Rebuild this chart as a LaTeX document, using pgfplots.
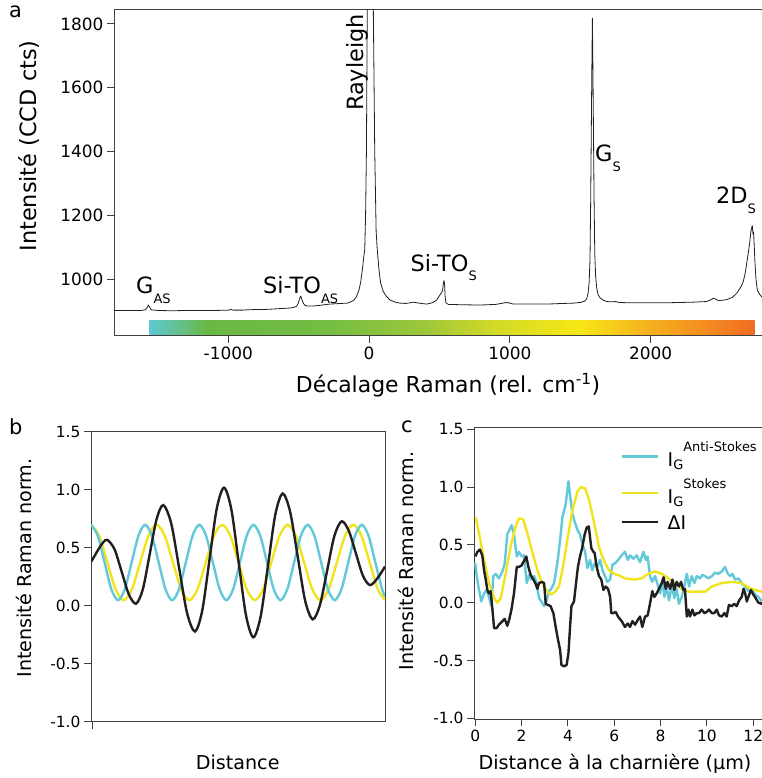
\documentclass[border=0pt]{standalone}
\usepackage{pgfplots}
\pgfplotsset{compat=1.18}
\usepackage{fontspec}
\setmainfont{DejaVu Sans}
\definecolor{cy}{HTML}{63C8D8}
\definecolor{ye}{HTML}{F0E41E}
\definecolor{bk}{HTML}{231F20}
\definecolor{ax}{HTML}{404040}
\definecolor{g1}{HTML}{5EC8D3}
\definecolor{g2}{HTML}{6AB945}
\definecolor{g3}{HTML}{74BD43}
\definecolor{g4}{HTML}{9EC73B}
\definecolor{g5}{HTML}{D2DB26}
\definecolor{g6}{HTML}{F8E716}
\definecolor{g7}{HTML}{F6B91E}
\definecolor{g8}{HTML}{F26C22}
\newcommand{\fs}[1]{\fontsize{#1}{#1}\selectfont}
\pgfplotsset{
  myax/.style={scale only axis, anchor=south west,
    axis line style={ax, line width=1bp},
    every tick/.style={ax, line width=1bp},
    tick align=outside, major tick length=7bp,
    xtick pos=lower, ytick pos=left, clip=true},
}
\begin{document}
\begin{tikzpicture}
% ---------------- panel a ----------------
\begin{axis}[myax, at={(114bp,442bp)}, width=649bp, height=326.7bp,
  xmin=-1812, xmax=2798, ymin=822, ymax=1846,
  xtick={-1000,0,1000,2000}, xticklabels={-1000,0,1000,2000},
  ytick={1000,1200,1400,1600,1800}, yticklabels={1000,1200,1400,1600,1800},
  tick label style={font=\fs{17}}]
\addplot[draw=none, left color=g1, right color=g2] coordinates {(-1561,826) (-1150,826) (-1150,869) (-1561,869)} -- cycle;
\addplot[draw=none, left color=g2, right color=g3] coordinates {(-1152,826) (-300,826) (-300,869) (-1152,869)} -- cycle;
\addplot[draw=none, left color=g3, right color=g4] coordinates {(-302,826) (400,826) (400,869) (-302,869)} -- cycle;
\addplot[draw=none, left color=g4, right color=g5] coordinates {(398,826) (900,826) (900,869) (398,869)} -- cycle;
\addplot[draw=none, left color=g5, right color=g6] coordinates {(898,826) (1500,826) (1500,869) (898,869)} -- cycle;
\addplot[draw=none, left color=g6, right color=g7] coordinates {(1498,826) (1900,826) (1900,869) (1498,869)} -- cycle;
\addplot[draw=none, left color=g7, right color=g8] coordinates {(1898,826) (2738,826) (2738,869) (1898,869)} -- cycle;
\addplot[bk, line width=0.8bp, line join=round] coordinates {
(-1812,902) (-1700,902) (-1620,902) (-1590,904) (-1578,910) (-1568,919) (-1558,911) (-1548,904) (-1500,902) (-1400,901) (-1300,902) (-1200,902) (-1100,902) (-1000,903) (-983,905) (-965,903) (-900,903) (-866,904) (-800,905) (-750,905) (-700,906) (-628,908) (-580,909) (-540,911) (-515,915) (-503,925) (-495,937) (-486,947) (-478,938) (-468,925) (-455,918) (-440,916) (-400,916) (-350,918) (-300,921) (-278,922) (-240,923) (-200,924) (-155,925) (-125,930) (-107,935) (-90,945) (-72,966) (-60,990) (-48,1029) (-38,1070) (-31,1092) (-25,1200) (-19,1400) (-13,1846) (-7,3500) (6,20000) (20,3500) (30,1846) (40,1400) (50,1150) (58,1092) (70,1030) (82,988) (100,962) (125,945) (148,935) (185,928) (220,925) (260,924) (290,926) (313,928) (340,926) (370,924) (409,922) (440,925) (465,930) (480,935) (495,945) (505,952) (515,958) (522,965) (527,985) (532,996) (536,985) (540,945) (546,926) (563,921) (650,920) (788,919) (900,921) (950,925) (977,927) (1000,925) (1023,922) (1150,922) (1261,922) (1380,924) (1449,925) (1500,927) (1530,931) (1545,938) (1555,955) (1563,990) (1569,1060) (1574,1250) (1578,1450) (1582,1650) (1586,1818) (1590,1650) (1594,1450) (1598,1250) (1603,1080) (1609,1010) (1616,975) (1626,952) (1640,942) (1660,935) (1687,930) (1720,929) (1746,930) (1780,927) (1853,926) (2000,926) (2100,926) (2206,927) (2300,928) (2397,930) (2425,935) (2445,940) (2465,937) (2480,933) (2510,934) (2540,936) (2580,943) (2611,956) (2640,975) (2658,993) (2672,1020) (2682,1050) (2693,1081) (2703,1113) (2712,1150) (2718,1162) (2722,1168) (2725,1150) (2728,1140) (2731,1148) (2735,1110) (2740,1060) (2748,1000) (2758,965) (2775,952) (2798,940)};
\end{axis}
% ---------------- panel b ----------------
\begin{axis}[myax, at={(91bp,56bp)}, width=294bp, height=290bp,
  xmin=0, xmax=100, ymin=-1, ymax=1.5,
  xtick={0.34}, xticklabels={},
  ytick={-1,-0.5,0,0.5,1,1.5}, yticklabels={-1.0,-0.5,0.0,0.5,1.0,1.5},
  tick label style={font=\fs{15.5}}]
\addplot[ye, line width=2.4bp, smooth] coordinates {
(0,0.7) (2.79,0.605) (5.58,0.375) (8.36,0.145) (11.15,0.05) (13.94,0.145) (16.73,0.375) (19.51,0.605) (22.30,0.7) (25.09,0.605) (27.88,0.375) (30.66,0.145) (33.45,0.05) (36.24,0.145) (39.03,0.375) (41.81,0.605) (44.60,0.7) (47.39,0.605) (50.18,0.375) (52.96,0.145) (55.75,0.05) (58.54,0.145) (61.33,0.375) (64.11,0.605) (66.90,0.7) (69.69,0.605) (72.48,0.375) (75.26,0.145) (78.05,0.05) (80.84,0.145) (83.63,0.375) (86.41,0.605) (89.20,0.7) (91.99,0.605) (94.78,0.375) (97.56,0.145) (100,0.052)};
\addplot[cy, line width=2.4bp, smooth] coordinates {
(0,0.7) (2.30,0.605) (4.61,0.375) (6.91,0.145) (9.21,0.05) (11.51,0.145) (13.82,0.375) (16.12,0.605) (18.42,0.7) (20.72,0.605) (23.03,0.375) (25.33,0.145) (27.63,0.05) (29.93,0.145) (32.24,0.375) (34.54,0.605) (36.84,0.7) (39.14,0.605) (41.45,0.375) (43.75,0.145) (46.05,0.05) (48.35,0.145) (50.66,0.375) (52.96,0.605) (55.26,0.7) (57.56,0.605) (59.87,0.375) (62.17,0.145) (64.47,0.05) (66.77,0.145) (69.08,0.375) (71.38,0.605) (73.68,0.7) (75.98,0.605) (78.29,0.375) (80.59,0.145) (82.89,0.05) (85.19,0.145) (87.50,0.375) (89.80,0.605) (92.10,0.7) (94.40,0.605) (96.71,0.375) (99.01,0.145) (100,0.083)};
\addplot[bk, line width=2.4bp, smooth] coordinates {
(0,0.38) (1.4,0.44) (2.8,0.50) (4.2,0.55) (5.56,0.57) (7.99,0.49) (10.44,0.295) (12.87,0.10) (15.31,0.02) (17.63,0.144) (19.96,0.445) (22.28,0.746) (24.60,0.87) (27.29,0.711) (29.99,0.325) (32.68,-0.061) (35.37,-0.22) (37.84,-0.039) (40.31,0.40) (42.77,0.839) (45.24,1.02) (47.74,0.832) (50.23,0.375) (52.73,-0.082) (55.22,-0.27) (57.71,-0.089) (60.21,0.35) (62.70,0.789) (65.19,0.97) (67.74,0.811) (70.30,0.4275) (72.85,0.044) (75.40,-0.115) (77.87,0.009) (80.33,0.3075) (82.80,0.606) (85.26,0.73) (87.67,0.649) (90.08,0.455) (92.49,0.261) (94.90,0.18) (97.45,0.24) (100,0.34)};
\end{axis}
% ---------------- panel c ----------------
\begin{axis}[myax, at={(474bp,58.7bp)}, width=289bp, height=291.6bp,
  xmin=-0.056, xmax=12.42, ymin=-1.009, ymax=1.514,
  xtick={0,2,4,6,8,10,12}, xticklabels={0,2,4,6,8,10,12},
  ytick={-1,-0.5,0,0.5,1,1.5}, yticklabels={-1.0,-0.5,0.0,0.5,1.0,1.5},
  tick label style={font=\fs{15.5}}]
\addplot[cy, line width=2.4bp, line join=round] coordinates {
(0.0,0.34) (0.06,0.23) (0.16,0.11) (0.26,0.01) (0.38,0.08) (0.49,0.11) (0.59,0.05) (0.69,-0.03) (0.78,0.23) (0.88,0.25) (1.02,0.21) (1.17,0.27) (1.27,0.34) (1.38,0.59) (1.50,0.64) (1.57,0.67) (1.67,0.59) (1.79,0.40) (1.89,0.44) (2.00,0.40) (2.10,0.41) (2.22,0.17) (2.32,0.24) (2.42,0.20) (2.54,0.23) (2.65,0.17) (2.75,0.04) (2.85,0.01) (2.97,-0.03) (3.08,0.02) (3.18,0.10) (3.28,0.12) (3.40,0.17) (3.54,0.34) (3.66,0.54) (3.76,0.74) (3.90,0.85) (4.02,1.05) (4.09,0.93) (4.19,0.77) (4.29,0.70) (4.41,0.63) (4.52,0.59) (4.62,0.51) (4.74,0.44) (4.84,0.30) (4.95,0.37) (5.05,0.28) (5.15,0.34) (5.27,0.31) (5.39,0.37) (5.49,0.28) (5.60,0.23) (5.70,0.18) (5.82,0.20) (5.92,0.33) (6.03,0.34) (6.17,0.37) (6.32,0.41) (6.46,0.44) (6.58,0.37) (6.68,0.41) (6.82,0.38) (6.97,0.41) (7.11,0.35) (7.26,0.44) (7.36,0.37) (7.44,0.40) (7.54,0.23) (7.64,0.18) (7.76,0.23) (7.88,0.15) (7.98,0.08) (8.08,0.20) (8.16,0.05) (8.26,0.14) (8.36,0.02) (8.48,0.15) (8.59,0.04) (8.69,0.12) (8.79,-0.01) (8.91,0.05) (9.03,0.15) (9.13,0.25) (9.23,0.14) (9.34,0.23) (9.46,0.17) (9.56,0.23) (9.70,0.21) (9.80,0.24) (9.92,0.23) (10.06,0.21) (10.21,0.23) (10.35,0.26) (10.49,0.25) (10.64,0.27) (10.78,0.31) (10.90,0.25) (11.00,0.23) (11.10,0.25) (11.21,0.20) (11.36,0.21) (11.50,0.17) (11.65,0.14) (11.79,0.10) (11.93,0.12) (12.08,0.07) (12.22,0.05) (12.38,0.01)};
\addplot[ye, line width=2.4bp, line join=round] coordinates {
(0.02,0.74) (0.16,0.60) (0.38,0.37) (0.59,0.17) (0.81,0.04) (0.95,0.00) (1.10,0.04) (1.31,0.25) (1.53,0.49) (1.74,0.66) (1.89,0.73) (2.07,0.72) (2.25,0.60) (2.46,0.44) (2.68,0.28) (2.89,0.17) (3.11,0.095) (3.28,0.07) (3.47,0.10) (3.61,0.14) (3.76,0.28) (3.97,0.54) (4.19,0.80) (4.41,0.96) (4.55,1.00) (4.74,0.99) (4.91,0.89) (5.13,0.69) (5.34,0.48) (5.56,0.36) (5.77,0.28) (5.99,0.25) (6.28,0.23) (6.46,0.21) (6.90,0.20) (7.18,0.21) (7.47,0.25) (7.76,0.27) (8.05,0.25) (8.34,0.21) (8.62,0.17) (8.91,0.12) (9.20,0.095) (9.49,0.095) (9.92,0.095) (10.21,0.14) (10.64,0.17) (11.07,0.18) (11.50,0.17) (11.79,0.13) (12.07,0.11) (12.38,0.095)};
\addplot[bk, line width=2.4bp, line join=round] coordinates {
(0.0,0.40) (0.09,0.44) (0.20,0.46) (0.30,0.41) (0.38,0.28) (0.45,0.20) (0.52,0.11) (0.59,0.08) (0.66,0.10) (0.74,-0.06) (0.81,-0.22) (0.92,-0.22) (1.02,-0.19) (1.17,-0.16) (1.27,-0.14) (1.38,-0.20) (1.46,-0.15) (1.56,-0.06) (1.67,0.08) (1.79,0.31) (1.89,0.31) (1.99,0.32) (2.10,0.36) (2.20,0.40) (2.29,0.31) (2.39,0.24) (2.51,0.20) (2.61,0.16) (2.68,0.12) (2.75,0.17) (2.87,0.18) (2.97,0.17) (3.04,-0.01) (3.14,-0.02) (3.25,-0.03) (3.37,-0.09) (3.47,-0.21) (3.57,-0.32) (3.66,-0.41) (3.72,-0.54) (3.83,-0.55) (3.94,-0.54) (4.02,-0.44) (4.09,-0.21) (4.15,-0.03) (4.26,0.01) (4.35,0.17) (4.43,0.31) (4.52,0.40) (4.62,0.48) (4.72,0.59) (4.81,0.65) (4.90,0.66) (4.95,0.57) (5.01,0.47) (5.10,0.44) (5.15,0.43) (5.24,0.31) (5.34,0.23) (5.44,0.20) (5.53,0.11) (5.63,0.14) (5.73,0.12) (5.82,0.05) (5.87,-0.09) (5.96,-0.09) (6.06,-0.08) (6.16,-0.12) (6.32,-0.16) (6.46,-0.21) (6.58,-0.18) (6.68,-0.21) (6.78,-0.16) (6.90,-0.19) (7.01,-0.15) (7.11,-0.12) (7.21,-0.21) (7.33,-0.12) (7.44,-0.11) (7.54,-0.01) (7.64,0.10) (7.73,0.05) (7.83,0.08) (7.93,0.12) (8.05,0.17) (8.13,0.22) (8.22,0.12) (8.30,0.18) (8.41,0.12) (8.51,0.20) (8.59,0.11) (8.69,0.18) (8.79,0.14) (8.88,0.18) (8.98,0.11) (9.05,0.12) (9.13,-0.12) (9.20,-0.06) (9.27,-0.12) (9.37,-0.06) (9.46,-0.11) (9.56,-0.09) (9.66,-0.09) (9.77,-0.06) (9.89,-0.09) (9.99,-0.08) (10.09,-0.06) (10.21,-0.09) (10.32,-0.09) (10.42,-0.06) (10.52,-0.11) (10.64,-0.12) (10.75,-0.09) (10.85,-0.12) (10.95,-0.02) (11.07,-0.03) (11.18,-0.01) (11.28,-0.03) (11.39,0.02) (11.50,0.05) (11.58,0.12) (11.65,0.08) (11.72,0.01) (11.79,0.05) (11.90,0.11) (12.00,0.07) (12.07,0.05) (12.22,0.00) (12.38,-0.01)};
\end{axis}
\begin{scope}[x=1bp,y=1bp]
% ---------------- texts ----------------
\node[anchor=base west, inner sep=0, font=\fs{21}] at (9,760) {a};
\node[anchor=base west, inner sep=0, font=\fs{21}] at (9,343) {b};
\node[anchor=base west, inner sep=0, font=\fs{21}] at (401,345) {c};
\node[rotate=90, anchor=base, inner sep=0, font=\fs{22.5}] at (36.5,632) {Intensité (CCD cts)};
\node[anchor=base, inner sep=0, font=\fs{22}] at (448,385.5) {Décalage Raman (rel. cm\textsuperscript{-1})};
\node[rotate=90, anchor=base, inner sep=0, font=\fs{19.2}] at (31,210) {Intensité Raman norm.};
\node[rotate=90, anchor=base, inner sep=0, font=\fs{19.2}] at (413.5,217) {Intensité Raman norm.};
\node[anchor=base, inner sep=0, font=\fs{19.2}] at (237.7,8) {Distance};
\node[anchor=base, inner sep=0, font=\fs{19.2}] at (615,8) {Distance à la charnière (μm)};
% annotations
\node[anchor=base west, inner sep=0, font=\fs{22.5}] at (136,484.5) {G\raisebox{-10.5bp}{\fs{13}AS}};
\node[anchor=base west, inner sep=0, font=\fs{22.5}] at (263,484.5) {Si-TO\raisebox{-10.5bp}{\fs{13}AS}};
\node[anchor=base west, inner sep=0, font=\fs{22.5}] at (410.5,506.3) {Si-TO\raisebox{-9bp}{\fs{13}S}};
\node[anchor=base west, inner sep=0, font=\fs{22.5}] at (595,616.5) {G\raisebox{-10bp}{\fs{13}S}};
\node[anchor=base west, inner sep=0, font=\fs{22.5}] at (716,574) {2D\raisebox{-10bp}{\fs{13}S}};
\node[rotate=90, anchor=base, inner sep=0, font=\fs{22.5}] at (363.5,715.5) {Rayleigh};
% legend of panel c
\draw[cy, line width=2.4bp] (621.7,321.3) -- (658,321.3);
\draw[ye, line width=2.4bp] (621.7,284.7) -- (658,284.7);
\draw[bk, line width=2.4bp] (621.7,255.7) -- (658,255.7);
\node[anchor=base west, inner sep=0, font=\fs{19}] at (667.5,311.3) {I\raisebox{-3.3bp}{\fs{13}G}\raisebox{15bp}{\fs{13}Anti-Stokes}};
\node[anchor=base west, inner sep=0, font=\fs{19}] at (667.5,274.7) {I\raisebox{-3.4bp}{\fs{13}G}\raisebox{15bp}{\fs{13}Stokes}};
\node[anchor=base west, inner sep=0, font=\fs{19}] at (667.5,248) {ΔI};
\pgfresetboundingbox
\path[use as bounding box] (0,0) rectangle (762,778);
\end{scope}
\end{tikzpicture}
\end{document}
